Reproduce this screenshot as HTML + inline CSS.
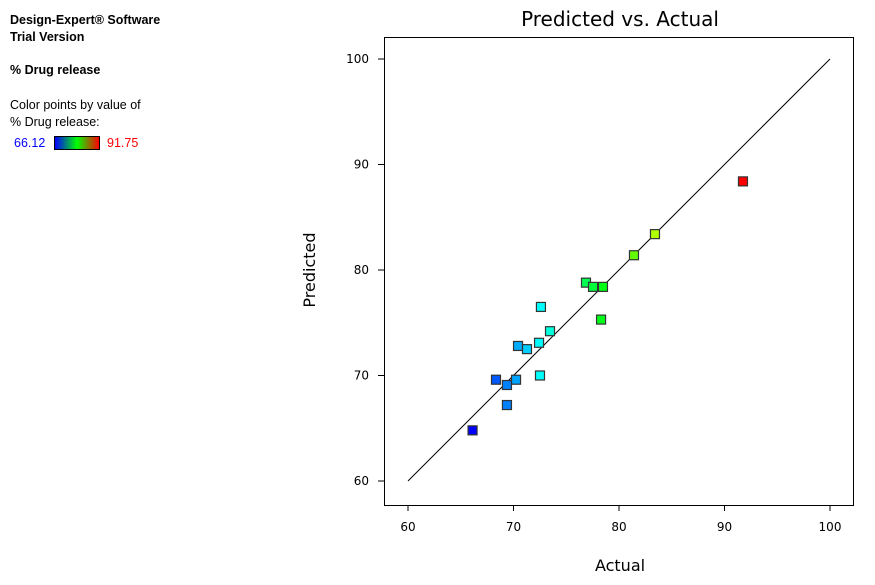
<!DOCTYPE html>
<html><head><meta charset="utf-8"><style>
body{margin:0;width:875px;height:585px;background:#fff;font-family:"Liberation Sans",sans-serif;overflow:hidden;position:relative}
.t{position:absolute;font-size:12.5px;color:#000;white-space:nowrap}
</style></head><body>
<div class="t" style="left:10px;top:12px;font-weight:bold;line-height:17px">Design-Expert® Software<br>Trial Version</div>
<div class="t" style="left:10px;top:63px;font-weight:bold">% Drug release</div>
<div class="t" style="left:10px;top:97px;line-height:17px">Color points by value of<br>% Drug release:</div>
<div class="t" style="left:14px;top:136px;color:#0000ff">66.12</div>
<div style="position:absolute;left:54px;top:136px;width:44px;height:12px;border:1px solid #000;background:linear-gradient(to right,#0000ff,#00ff00,#ff0000)"></div>
<div class="t" style="left:107px;top:136px;color:#ff0000">91.75</div>
<svg id="c" width="875" height="585" style="position:absolute;left:0;top:0"></svg>
<script>
const actual=[66.12,69.38,68.34,69.38,70.24,72.51,70.43,71.28,72.42,73.46,72.6,76.87,77.54,78.48,78.3,81.42,83.41,91.75];
const predicted=[64.8,67.2,69.6,69.1,69.6,70.0,72.8,72.5,73.1,74.2,76.5,78.8,78.4,78.4,75.3,81.4,83.4,88.4];
const xTicks=[60,70,80,90,100];
const yTicks=[60,70,80,90,100];
const vmin=66.12,vmax=91.75;
const X=v=>408+(v-60)*10.55, Y=v=>481-(v-60)*10.55;
const svg=document.getElementById('c');const NS='http://www.w3.org/2000/svg';
function mk(t,a,txt){const e=document.createElementNS(NS,t);for(const k in a)e.setAttribute(k,a[k]);if(txt!=null)e.textContent=txt;svg.appendChild(e);return e;}
let e;
e=mk('rect',{x:384.5,y:37.5,width:469,height:468,fill:'none',stroke:'#000'});


e=mk('text',{x:620,y:26,'text-anchor':'middle','font-size':20,'font-family':'DejaVu Sans, sans-serif'},'Predicted vs. Actual');


e=mk('text',{x:620,y:571,'text-anchor':'middle','font-size':16,'font-family':'DejaVu Sans, sans-serif'},'Actual');


e=mk('text',{x:315,y:270,'text-anchor':'middle','font-size':16,'font-family':'DejaVu Sans, sans-serif',transform:'rotate(-90 315 270)'},'Predicted');


xTicks.forEach(v=>{
 e=mk('line',{x1:X(v),x2:X(v),y1:505,y2:511,stroke:'#000'});
 
 
 e=mk('text',{x:X(v),y:531,'text-anchor':'middle','font-size':12,'font-family':'DejaVu Sans, sans-serif'},v);
 
 
});
yTicks.forEach(v=>{
 e=mk('line',{x1:378,x2:384,y1:Y(v),y2:Y(v),stroke:'#000'});
 
 
 e=mk('text',{x:369,y:Y(v)+4,'text-anchor':'end','font-size':12,'font-family':'DejaVu Sans, sans-serif'},v);
 
 
});
e=mk('line',{x1:X(60),y1:Y(60),x2:X(100),y2:Y(100),stroke:'#000','stroke-width':1});


actual.forEach((a,i)=>{
 const t=Math.max(0,Math.min(1,(a-vmin)/(vmax-vmin)));
 const hue=240*(1-t);
 e=mk('rect',{x:X(a)-4.5,y:Y(predicted[i])-4.5,width:9,height:9,fill:`hsl(${hue},100%,50%)`,stroke:'#333','stroke-width':1.2});
 
 
});
</script>
</body></html>
